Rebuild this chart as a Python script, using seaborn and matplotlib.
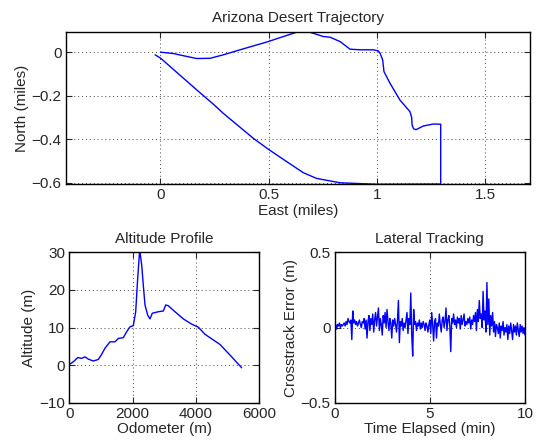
import numpy as np
import pandas as pd
import matplotlib
matplotlib.use("Agg")
import matplotlib.pyplot as plt
import seaborn as sns

# trajectory (miles)
east = [0.002, 0.06, 0.106, 0.168, 0.23, 0.291, 0.368, 0.499, 0.553, 0.63, 0.691,
        0.753, 0.784, 0.83, 0.876, 0.922, 0.984, 1.007, 1.015, 1.027, 1.033, 1.061,
        1.107, 1.153, 1.161, 1.163, 1.170, 1.181, 1.215, 1.261, 1.295, 1.295, 1.295,
        1.0, 0.83, 0.722, 0.661, 0.584, 0.499, 0.43, 0.291, 0.245, 0.168, 0.002, -0.024]
north = [0.0, -0.006, -0.016, -0.029, -0.028, -0.012, 0.011, 0.049, 0.067, 0.092, 0.092,
         0.072, 0.069, 0.049, 0.014, 0.011, 0.011, 0.006, -0.005, -0.035, -0.089, -0.143,
         -0.22, -0.273, -0.300, -0.335, -0.352, -0.356, -0.339, -0.33, -0.331, -0.45, -0.606,
         -0.607, -0.6, -0.58, -0.554, -0.503, -0.446, -0.396, -0.281, -0.239, -0.173, -0.028, -0.012]

# altitude profile
odometer = [22, 127, 266, 392, 497, 601, 759, 917, 1025, 1129, 1287, 1445, 1550, 1708,
            1815, 1920, 2024, 2100, 2163, 2226, 2290, 2340, 2394, 2479, 2552, 2625,
            2815, 2973, 3049, 3131, 3343, 3606, 3871, 4080, 4292, 4766, 5136, 5452]
altitude = [0.3, 0.9, 2.0, 1.8, 2.2, 1.6, 1.1, 1.5, 2.9, 4.5, 6.2, 6.2, 7.1, 7.3,
            8.9, 10.2, 10.5, 14.2, 23.1, 30.6, 26.6, 21.3, 16.0, 13.3, 12.3, 13.8,
            14.2, 14.4, 16.0, 15.8, 14.2, 12.3, 10.9, 10.1, 8.2, 5.5, 2.2, -0.7]

# crosstrack error (m), one value per 0.05 min
crosstrack = [
    0.01, 0.02, -0.01, 0.02, 0.01, 0.03, 0.0, 0.02, 0.01, 0.02, 0.03, 0.01, 0.04, 0.02, 0.06, 0.04, 0.03, 0.05, -0.08, 0.11,
    0.03, 0.05, 0.02, 0.04, 0.01, 0.03, 0.05, 0.02, 0.0, 0.04, 0.03, 0.06, -0.01, 0.05, -0.07, 0.04, 0.08, -0.02, 0.06, 0.02,
    0.09, -0.03, 0.05, 0.1, 0.01, 0.07, 0.13, -0.02, 0.06, 0.02, -0.05, 0.08, 0.03, 0.1, 0.0, 0.12, 0.04, -0.02, 0.06, 0.03,
    -0.07, 0.05, 0.01, 0.06, 0.02, -0.03, 0.05, 0.18, -0.1, 0.04, 0.01, 0.06, -0.02, 0.03, 0.0, 0.05, 0.1, -0.04, 0.06, 0.02,
    0.23, -0.05, -0.19, 0.12, 0.02, 0.04, -0.02, 0.03, 0.01, 0.05, -0.01, 0.03, 0.0, 0.04, 0.02, -0.02, 0.03, 0.01, -0.03, 0.02,
    0.05, -0.04, 0.1, 0.02, -0.09, 0.04, 0.06, -0.07, 0.03, 0.01, 0.09, 0.02, -0.03, 0.05, 0.07, 0.0, 0.04, 0.13, -0.02, 0.05,
    0.08, 0.01, -0.16, 0.06, 0.03, 0.09, 0.02, 0.05, 0.0, 0.07, 0.03, 0.06, -0.01, 0.08, 0.02, 0.05, 0.09, 0.01, 0.04, 0.02,
    0.06, 0.03, 0.07, -0.01, 0.05, 0.02, 0.08, 0.04, 0.1, -0.02, 0.12, 0.04, 0.18, 0.06, 0.09, 0.0, 0.24, 0.05, 0.11, -0.03,
    0.3, 0.02, 0.19, -0.05, 0.08, 0.01, 0.1, -0.03, 0.04, -0.06, 0.02, 0.0, -0.04, 0.03, -0.07, 0.01, -0.02, 0.04, -0.05, 0.0,
    -0.03, 0.02, -0.08, 0.01, -0.04, 0.03, -0.02, -0.08, 0.02, -0.03, 0.01, -0.05, 0.03, -0.02, -0.06, 0.02, -0.03, 0.01, -0.04, 0.0,
    -0.05]
elapsed = np.linspace(0, 10, len(crosstrack))

sns.set_style("ticks")
plt.rcParams['font.family'] = ['Liberation Sans', 'DejaVu Sans']
plt.rcParams['font.size'] = 11
plt.rcParams['axes.linewidth'] = 1.0


def matlab_axes(ax):
    ax.tick_params(direction='in', top=True, right=True, length=4, width=0.8,
                   labelsize=11, pad=3)
    ax.grid(True, linestyle=(0, (1, 3)), color='#444444', linewidth=0.7)
    for s in ax.spines.values():
        s.set_visible(True)
        s.set_color('black')


fig = plt.figure(figsize=(5.36, 4.41), dpi=100)

# top: trajectory
ax1 = fig.add_axes([0.1226, 0.5821, 0.8668, 0.3454])
sns.lineplot(x=east, y=north, sort=False, estimator=None, color='blue', lw=1, ax=ax1)
ax1.set_xlim(-0.437, 1.709)
ax1.set_ylim(-0.607, 0.093)
ax1.set_xticks([0, 0.5, 1, 1.5], ['0', '0.5', '1', '1.5'])
ax1.set_yticks([-0.6, -0.4, -0.2, 0], ['\u22120.6', '\u22120.4', '\u22120.2', '0'])
ax1.set_title('Arizona Desert Trajectory', fontsize=11, pad=7)
ax1.set_xlabel('East (miles)', labelpad=1)
ax1.set_ylabel('North (miles)', labelpad=2)
matlab_axes(ax1)

# bottom left: altitude
ax2 = fig.add_axes([0.1293, 0.0868, 0.3539, 0.3410])
sns.lineplot(x=odometer, y=altitude, sort=False, estimator=None, color='blue', lw=1, ax=ax2)
ax2.set_xlim(0, 6000)
ax2.set_ylim(-10, 30)
ax2.set_xticks([0, 2000, 4000, 6000])
ax2.set_yticks([-10, 0, 10, 20, 30])
ax2.set_title('Altitude Profile', fontsize=11, pad=7)
ax2.set_xlabel('Odometer (m)', labelpad=1)
ax2.set_ylabel('Altitude (m)', labelpad=2)
matlab_axes(ax2)

# bottom right: lateral tracking
ax3 = fig.add_axes([0.6244, 0.0868, 0.3550, 0.3410])
sns.lineplot(x=elapsed, y=crosstrack, sort=False, estimator=None, color='blue', lw=1, ax=ax3)
ax3.set_xlim(0, 10)
ax3.set_ylim(-0.5, 0.5)
ax3.set_xticks([0, 5, 10])
ax3.set_yticks([-0.5, 0, 0.5], ['\u22120.5', '0', '0.5'])
ax3.set_title('Lateral Tracking', fontsize=11, pad=7)
ax3.set_xlabel('Time Elapsed (min)', labelpad=1)
ax3.set_ylabel('Crosstrack Error (m)', labelpad=2)
matlab_axes(ax3)

fig.savefig('out.png', dpi=100)
